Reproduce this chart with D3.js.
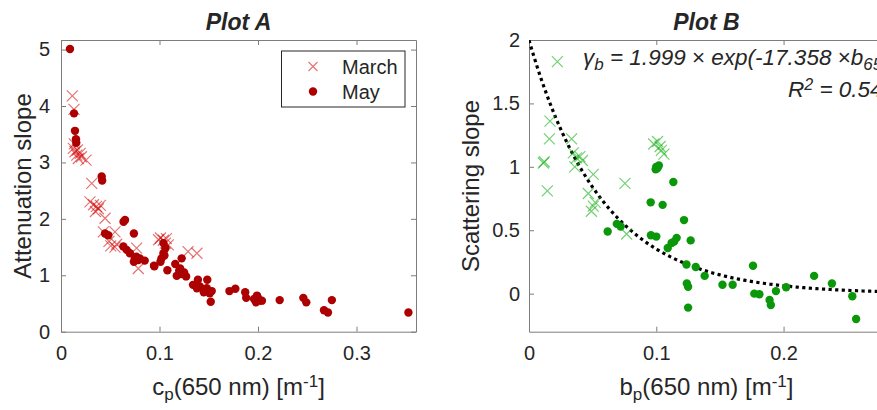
<!DOCTYPE html>
<html>
<head>
<meta charset="utf-8">
<script src="https://cdn.jsdelivr.net/npm/d3@7"></script>
<style>
  body { margin: 0; background: #fff; }
  svg { display: block; }
  text { font-family: 'Liberation Sans', Arial, Helvetica, sans-serif; fill: #262626; }
</style>
</head>
<body>
<script>
// Plot A : attenuation slope vs c_p(650)
const marchCp = [0.0115, 0.0132, 0.0135, 0.0125, 0.0142, 0.016, 0.0176, 0.0166, 0.0195, 0.0207,
  0.0254, 0.0312, 0.0294, 0.033, 0.036, 0.038, 0.040, 0.035, 0.0447, 0.043, 0.0548, 0.0487,
  0.0505, 0.0548, 0.0565, 0.0768, 0.0785, 0.099, 0.101, 0.104, 0.107, 0.109, 0.106, 0.129, 0.138];
const marchAtt = [4.18, 3.94, 3.33, 3.25, 3.19, 3.13, 3.07, 3.22, 3.16, 3.10,
  3.04, 2.63, 2.30, 2.25, 2.22, 2.18, 2.24, 2.13, 2.01, 1.77, 1.77, 1.60,
  1.52, 1.50, 1.55, 1.48, 1.12, 1.63, 1.66, 1.62, 1.65, 1.54, 1.57, 1.42, 1.39];

const mayCp = [0.0091, 0.0132, 0.0142, 0.0152, 0.0155, 0.0413, 0.0418, 0.065, 0.0635, 0.0447,
  0.048, 0.074, 0.0633, 0.0667, 0.070, 0.075, 0.0785, 0.074, 0.085, 0.0765, 0.080, 0.0944,
  0.104, 0.106, 0.104, 0.102, 0.101, 0.0948, 0.108, 0.116, 0.1175, 0.1225, 0.120, 0.122,
  0.125, 0.127, 0.121, 0.105, 0.1485, 0.139, 0.134, 0.141, 0.138, 0.148, 0.151, 0.145,
  0.153, 0.152, 0.171, 0.177, 0.187, 0.188, 0.196, 0.198, 0.200, 0.202, 0.199, 0.204,
  0.222, 0.246, 0.249, 0.267, 0.271, 0.275, 0.3527];
const mayAtt = [5.01, 3.87, 3.56, 3.41, 3.35, 2.75, 2.68, 1.98, 1.95, 1.74,
  1.71, 1.74, 1.51, 1.45, 1.39, 1.30, 1.27, 1.24, 1.26, 1.33, 1.30, 1.17,
  1.57, 1.48, 1.39, 1.30, 1.24, 1.16, 1.09, 1.20, 0.99, 1.30, 1.08, 1.02,
  1.05, 0.98, 1.12, 1.35, 0.92, 0.92, 0.83, 0.80, 0.77, 0.77, 0.68, 0.70,
  0.72, 0.53, 0.72, 0.76, 0.70, 0.60, 0.58, 0.52, 0.60, 0.55, 0.64, 0.55,
  0.56, 0.60, 0.52, 0.38, 0.34, 0.56, 0.34];

// Plot B : scattering slope vs b_p(650)
const marchBp = [0.0223, 0.0165, 0.016, 0.0113, 0.012, 0.0144, 0.0335, 0.0348, 0.036, 0.0373,
  0.040, 0.042, 0.0505, 0.0466, 0.049, 0.0505, 0.052, 0.0754, 0.0767, 0.098, 0.101, 0.103,
  0.104, 0.106];
const marchScat = [1.83, 1.36, 1.22, 1.03, 1.04, 0.81, 1.22, 1.11, 1.00, 1.07,
  1.08, 1.05, 0.94, 0.79, 0.65, 0.69, 0.72, 0.87, 0.47, 1.18, 1.20, 1.16,
  1.13, 1.10];

const mayBp = [0.0995, 0.100, 0.101, 0.102, 0.1134, 0.0956, 0.105, 0.0618, 0.069, 0.072,
  0.0958, 0.100, 0.1218, 0.127, 0.112, 0.114, 0.116, 0.109, 0.1237, 0.131, 0.138, 0.124,
  0.125, 0.125, 0.152, 0.160, 0.176, 0.177, 0.181, 0.189, 0.190, 0.194, 0.202, 0.224,
  0.238, 0.254, 0.257];
const mayScat = [0.98, 1.00, 0.99, 1.01, 0.88, 0.72, 0.70, 0.49, 0.55, 0.53,
  0.46, 0.45, 0.58, 0.42, 0.40, 0.41, 0.44, 0.36, 0.23, 0.21, 0.14, 0.08,
  0.055, -0.11, 0.07, 0.07, 0.22, 0.0, -0.005, -0.05, -0.09, 0.02, 0.05, 0.14,
  0.08, -0.02, -0.20];

// exponential fit shown in plot B
const fitA = 1.999, fitK = 17.358;

const ticksA_x = [0, 0.1, 0.2, 0.3], ticksA_y = [0, 1, 2, 3, 4, 5];
const ticksB_x = [0, 0.1, 0.2], ticksB_y = [0, 0.5, 1, 1.5, 2];

const redCross = '#d20000', redDot = '#ad0000';
const greenCross = '#00aa00', greenDot = '#0a980a';

let svg = d3.select('body')
  .append('svg')
  .attr('width', 877)
  .attr('height', 410);

const plotTop = 40, plotBottom = 331.7;

const cross = (s) => `M${-s},${-s}L${s},${s}M${-s},${s}L${s},${-s}`;

const panel = (o) => {
  let x = d3.scaleLinear().domain(o.xDomain).range([o.left, o.left + 355]);
  let y = d3.scaleLinear().domain(o.yDomain).range([plotBottom, plotTop]);
  let g = svg.append('g');

  g.append('clipPath').attr('id', o.id)
    .append('rect')
    .attr('x', x.range()[0]).attr('y', plotTop)
    .attr('width', 355).attr('height', plotBottom - plotTop);

  // axes with inward ticks, box on
  const styleAxis = (sel) => {
    sel.selectAll('path.domain').attr('stroke', '#7d7d7d').attr('stroke-width', 1);
    sel.selectAll('.tick line').attr('stroke', '#7d7d7d');
    sel.selectAll('.tick text').attr('font-size', 20).attr('fill', '#262626')
      .attr('font-family', "'Liberation Sans', Arial, sans-serif");
  };
  g.append('g').attr('transform', `translate(0,${plotBottom})`)
    .call(d3.axisBottom(x).tickValues(o.xTicks).tickSize(-5).tickSizeOuter(0).tickPadding(14).tickFormat(d => d))
    .call(styleAxis);
  g.append('g').attr('transform', `translate(0,${plotTop})`)
    .call(d3.axisTop(x).tickValues(o.xTicks).tickSize(-5).tickSizeOuter(0).tickFormat(''))
    .call(styleAxis);
  g.append('g').attr('transform', `translate(${x.range()[0]},0)`)
    .call(d3.axisLeft(y).tickValues(o.yTicks).tickSize(-5).tickSizeOuter(0).tickPadding(o.yPad).tickFormat(d => d))
    .call(styleAxis);
  g.append('g').attr('transform', `translate(${x.range()[1]},0)`)
    .call(d3.axisRight(y).tickValues(o.yTicks).tickSize(-5).tickSizeOuter(0).tickFormat(''))
    .call(styleAxis);
  g.selectAll('.domain').attr('fill', 'none');

  let plot = g.append('g').attr('clip-path', `url(#${o.id})`);

  if (o.fit) {
    let xs = d3.range(0, 201).map(i => o.xDomain[0] + (o.xDomain[1] - o.xDomain[0]) * i / 200);
    plot.append('path')
      .attr('d', d3.line().x(d => x(d)).y(d => y(o.fit.a * Math.exp(-o.fit.k * d)))(xs))
      .attr('fill', 'none')
      .attr('stroke', '#000')
      .attr('stroke-width', 3.2)
      .attr('stroke-dasharray', '3.2 3.4');
  }

  plot.selectAll('.cross')
    .data(o.crossX.map((d, i) => [d, o.crossY[i]]))
    .enter()
    .append('path')
    .attr('class', 'cross')
    .attr('transform', d => `translate(${x(d[0])},${y(d[1])})`)
    .attr('d', cross(5.5))
    .attr('fill', 'none')
    .attr('stroke', o.crossColor)
    .attr('stroke-opacity', 0.55)
    .attr('stroke-width', 1.2);

  plot.selectAll('.dot')
    .data(o.dotX.map((d, i) => [d, o.dotY[i]]))
    .enter()
    .append('circle')
    .attr('class', 'dot')
    .attr('cx', d => x(d[0]))
    .attr('cy', d => y(d[1]))
    .attr('r', 4.2)
    .attr('fill', o.dotColor);

  // title
  g.append('text')
    .attr('x', o.left + 177.5).attr('y', 30)
    .attr('text-anchor', 'middle')
    .attr('font-size', 23).attr('font-weight', 'bold').attr('font-style', 'italic')
    .attr('fill', '#000')
    .text(o.title);

  // x label
  let xl = g.append('text')
    .attr('x', o.left + 177.5).attr('y', 395)
    .attr('text-anchor', 'middle')
    .attr('font-size', 24);
  xl.append('tspan').text(o.xVar);
  xl.append('tspan').attr('baseline-shift', '-30%').attr('font-size', 17).text('p');
  xl.append('tspan').text('(650 nm) [m');
  xl.append('tspan').attr('baseline-shift', '45%').attr('font-size', 17).text('-1');
  xl.append('tspan').text(']');

  // y label
  g.append('text')
    .attr('transform', `translate(${o.yLabelX},186) rotate(-90)`)
    .attr('text-anchor', 'middle')
    .attr('font-size', 24)
    .text(o.yLabel);

  return { x, y, g };
};

const pA = panel({
  id: 'clipA', left: 61, xDomain: [0, 0.3604], yDomain: [0, 5.17],
  xTicks: ticksA_x, yTicks: ticksA_y, yPad: 11,
  crossX: marchCp, crossY: marchAtt, crossColor: redCross,
  dotX: mayCp, dotY: mayAtt, dotColor: redDot,
  title: 'Plot A', xVar: 'c', yLabel: 'Attenuation slope', yLabelX: 31
});

const pB = panel({
  id: 'clipB', left: 529, xDomain: [0, 0.2789], yDomain: [-0.3, 2],
  xTicks: ticksB_x, yTicks: ticksB_y, yPad: 9,
  crossX: marchBp, crossY: marchScat, crossColor: greenCross,
  dotX: mayBp, dotY: mayScat, dotColor: greenDot,
  fit: { a: fitA, k: fitK },
  title: 'Plot B', xVar: 'b', yLabel: 'Scattering slope', yLabelX: 479
});

// legend in plot A
let leg = pA.g.append('g');
leg.append('rect')
  .attr('x', 281.5).attr('y', 51).attr('width', 123.5).attr('height', 56)
  .attr('fill', '#fff').attr('stroke', '#262626').attr('stroke-width', 1);
leg.append('path')
  .attr('transform', 'translate(313,66.5)')
  .attr('d', cross(4.5))
  .attr('fill', 'none').attr('stroke', redCross).attr('stroke-opacity', 0.55).attr('stroke-width', 1.2);
leg.append('circle').attr('cx', 313).attr('cy', 91.5).attr('r', 4.2).attr('fill', redDot);
leg.append('text').attr('x', 342).attr('y', 73.5).attr('font-size', 20).attr('fill', '#000').text('March');
leg.append('text').attr('x', 342).attr('y', 98.5).attr('font-size', 20).attr('fill', '#000').text('May');

// fit annotation in plot B
let ann1 = pB.g.append('text')
  .attr('x', 583).attr('y', 65)
  .attr('font-size', 22.5).attr('font-style', 'italic').attr('fill', '#000');
ann1.append('tspan').text('\u03b3');
ann1.append('tspan').attr('baseline-shift', '-30%').attr('font-size', 17).text('b');
ann1.append('tspan').text(` = ${fitA.toFixed(3)}`);
ann1.append('tspan').attr('font-style', 'normal').text(' \u00d7 ');
ann1.append('tspan').text(`exp(-${fitK.toFixed(3)} `);
ann1.append('tspan').attr('font-style', 'normal').text('\u00d7');
ann1.append('tspan').text('b');
ann1.append('tspan').attr('baseline-shift', '-30%').attr('font-size', 17).text('650');
ann1.append('tspan').text(')');

let ann2 = pB.g.append('text')
  .attr('x', 788).attr('y', 97)
  .attr('font-size', 22.5).attr('font-style', 'italic').attr('fill', '#000');
ann2.append('tspan').text('R');
ann2.append('tspan').attr('baseline-shift', '45%').attr('font-size', 16).text('2');
ann2.append('tspan').text(' = 0.54');
</script>
</body>
</html>
